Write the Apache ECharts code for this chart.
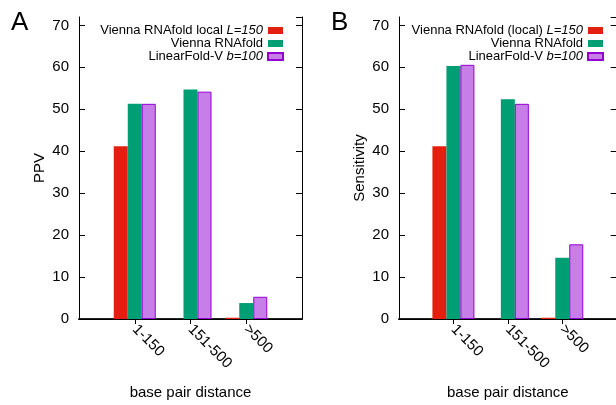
<!DOCTYPE html>
<html><head><meta charset="utf-8">
<script src="https://cdn.jsdelivr.net/npm/echarts@6/dist/echarts.min.js"></script>
<style>html,body{margin:0;padding:0;background:#fff;overflow:hidden}
#wrap{width:616px;height:405px;overflow:hidden;position:relative}
#c{width:630px;height:405px;position:absolute;left:0;top:0}</style>
</head><body><div id="wrap"><div id="c"></div></div>
<script>
const categories = ['1-150', '151-500', '>500'];
const ppvLocal   = [41.2, 0, 0.3];
const ppvVienna  = [51.3, 54.7, 3.8];
const ppvLinear  = [51.3, 54.2, 5.3];
const sensLocal  = [41.2, 0, 0.3];
const sensVienna = [60.3, 52.4, 14.6];
const sensLinear = [60.6, 51.3, 17.8];
const namesA = ['Vienna RNAfold local L=150', 'Vienna RNAfold', 'LinearFold-V b=100'];
const namesB = ['Vienna RNAfold (local) L=150', 'Vienna RNAfold', 'LinearFold-V b=100'];

const FONT = '"Liberation Sans", Arial, Helvetica, sans-serif';
const paddedCats = [' ', ...categories, '  '];
const pad = a => [null, ...a, null];
const colors = ['#e3200f', '#009e73', '#c87ee8'];

function xAxes(gi) {
  return [{
    type: 'category', gridIndex: gi, data: paddedCats, boundaryGap: false, position: 'bottom',
    axisLine: { lineStyle: { color: '#222', width: 2 } },
    axisTick: { inside: true, length: 5, interval: (i) => i >= 1 && i <= 3, lineStyle: { color: '#000' } },
    axisLabel: { interval: 0, rotate: -45, margin: 8, color: '#000', fontSize: 15, fontFamily: FONT },
    name: 'base pair distance', nameLocation: 'middle', nameGap: 66,
    nameTextStyle: { color: '#000', fontSize: 15, fontFamily: FONT },
    splitLine: { show: false }
  }, {
    type: 'category', gridIndex: gi, data: paddedCats, boundaryGap: false, position: 'top',
    axisLine: { lineStyle: { color: '#000', width: 1 } },
    axisTick: { inside: true, length: 5, interval: (i) => i >= 1 && i <= 3, lineStyle: { color: '#000' } },
    axisLabel: { show: false }, splitLine: { show: false }
  }];
}
function yAxes(gi, name) {
  return [{
    type: 'value', gridIndex: gi, min: 0, max: 72, interval: 10, position: 'left',
    axisLine: { show: true, lineStyle: { color: '#000', width: 1 } },
    axisTick: { show: true, inside: true, length: 6, lineStyle: { color: '#000' } },
    axisLabel: { margin: 10, color: '#000', fontSize: 15, fontFamily: FONT, showMaxLabel: false },
    splitLine: { show: false },
    name: name, nameLocation: 'middle', nameGap: 32, nameRotate: 90,
    nameTextStyle: { color: '#000', fontSize: 15, fontFamily: FONT }
  }, {
    type: 'value', gridIndex: gi, min: 0, max: 72, interval: 10, position: 'right',
    axisLine: { show: true, lineStyle: { color: '#000', width: 1 } },
    axisTick: { show: true, inside: true, length: 6, lineStyle: { color: '#000' } },
    axisLabel: { show: false }, splitLine: { show: false }
  }];
}
function barSeries(names, vals, xi, yi) {
  return vals.map((v, k) => ({
    type: 'bar', name: names[k], xAxisIndex: xi, yAxisIndex: yi,
    data: pad(v), barWidth: 14, barGap: '0%',
    itemStyle: k === 2 ? { color: colors[k], borderColor: '#9400d3', borderWidth: 1 } : { color: colors[k] }
  }));
}
function legend(names, left) {
  return {
    data: names, orient: 'vertical', right: 630 - left, top: 24, align: 'right', padding: 0,
    icon: 'rect', itemWidth: 15, itemHeight: 7, itemGap: 0,
    formatter: n => n.replace(/(L=150|b=100)/, '{i|$1}'),
    textStyle: { color: '#000', fontSize: 13, fontFamily: FONT, lineHeight: 13,
      rich: { i: { fontStyle: 'italic', fontSize: 13, fontFamily: FONT, color: '#000' } } },
    selectedMode: false
  };
}

const chart = echarts.init(document.getElementById('c'));
chart.setOption({
  animation: false,
  backgroundColor: '#fff',
  grid: [
    { left: 79, top: 17, width: 223, height: 303.5 },
    { left: 399, top: 17, width: 223, height: 303.5 }
  ],
  xAxis: [...xAxes(0), ...xAxes(1)],
  yAxis: [...yAxes(0, 'PPV'), ...yAxes(1, 'Sensitivity')],
  legend: [legend(namesA, 284), legend(namesB, 604)],
  series: [
    ...barSeries(namesA, [ppvLocal, ppvVienna, ppvLinear], 0, 0),
    ...barSeries(namesB, [sensLocal, sensVienna, sensLinear], 2, 2)
  ],
  graphic: [
    { type: 'text', left: 11, top: 10, style: { text: 'A', fontSize: 26, fontFamily: FONT, fill: '#000' } },
    { type: 'text', left: 331, top: 10, style: { text: 'B', fontSize: 26, fontFamily: FONT, fill: '#000' } }
  ]
});
</script></body></html>
